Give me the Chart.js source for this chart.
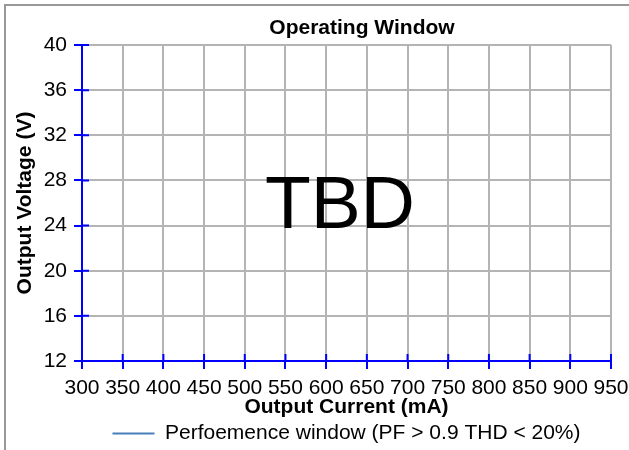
<!DOCTYPE html>
<html>
<head>
<meta charset="utf-8">
<script src="https://cdn.jsdelivr.net/npm/chart.js@4"></script>
<style>
  html, body { margin: 0; padding: 0; background: #fff; }
  #wrap { width: 629px; height: 450px; position: relative; }
</style>
</head>
<body>
<div id="wrap"><canvas id="chart" width="629" height="450"></canvas></div>
<script>
const FONT = "Arial, 'Liberation Sans', sans-serif";

// ── data ──
const chartTitle = "Operating Window";
const xTitle = "Output Current (mA)";
const yTitle = "Output Voltage (V)";
const xTicks = [300, 350, 400, 450, 500, 550, 600, 650, 700, 750, 800, 850, 900, 950];
const yTicks = [12, 16, 20, 24, 28, 32, 36, 40];
const seriesLabel = "Perfoemence window (PF > 0.9 THD < 20%)";
const seriesPoints = []; // no data yet, chart marked TBD
const placeholder = "TBD";

const AXIS_BLUE = "#0000ff";
const GRID_GRAY = "#b4b4b4";

// frame, title and the big TBD text
const decor = {
  id: "decor",
  beforeDraw(chart) {
    const { ctx, width, height } = chart;
    ctx.save();
    ctx.fillStyle = "#fff";
    ctx.fillRect(0, 0, width, height);
    ctx.strokeStyle = "#999";
    ctx.lineWidth = 2;
    ctx.strokeRect(5, 5, width + 20, height + 20);
    ctx.restore();
  },
  afterDraw(chart) {
    const { ctx, chartArea: a, scales } = chart;
    ctx.save();
    // inward half of the crossing tick marks
    ctx.strokeStyle = AXIS_BLUE;
    ctx.lineWidth = 2;
    ctx.beginPath();
    xTicks.forEach((v) => {
      const x = scales.x.getPixelForValue(v);
      ctx.moveTo(x, a.bottom);
      ctx.lineTo(x, a.bottom - 7);
    });
    yTicks.forEach((v) => {
      const y = scales.y.getPixelForValue(v);
      ctx.moveTo(a.left, y);
      ctx.lineTo(a.left + 7, y);
    });
    ctx.stroke();

    ctx.fillStyle = "#000";
    ctx.textAlign = "center";
    ctx.textBaseline = "middle";
    ctx.font = "bold 21px " + FONT;
    ctx.fillText(chartTitle, 362, 28);
    ctx.font = "75px " + FONT;
    ctx.textBaseline = "alphabetic";
    ctx.fillText(placeholder, 340, 228);
    ctx.restore();
  },
};

new Chart(document.getElementById("chart"), {
  type: "line",
  data: {
    datasets: [
      {
        label: seriesLabel,
        data: seriesPoints,
        borderColor: "#4a7ebb",
        backgroundColor: "#4a7ebb",
        borderWidth: 2,
        pointRadius: 0,
      },
    ],
  },
  options: {
    responsive: false,
    animation: false,
    layout: { padding: { top: 45, left: 0, right: 18, bottom: -4 } },
    plugins: {
      title: { display: false },
      tooltip: { enabled: false },
      legend: {
        position: "bottom",
        fullSize: false,
        labels: {
          usePointStyle: true,
          pointStyle: "line",
          pointStyleWidth: 42,
          color: "#000",
          padding: 6,
          font: { family: FONT, size: 21 },
        },
      },
    },
    scales: {
      x: {
        type: "linear",
        min: 300,
        max: 950,
        afterBuildTicks: (s) => { s.ticks = xTicks.map((v) => ({ value: v })); },
        afterFit: (s) => { s.height = 56; s.paddingLeft = 0; s.paddingRight = 0; },
        grid: { color: GRID_GRAY, lineWidth: 2, tickColor: AXIS_BLUE, tickLength: 8, tickWidth: 2 },
        border: { color: AXIS_BLUE, width: 2 },
        ticks: { color: "#000", padding: 7, maxRotation: 0, autoSkip: false, font: { family: FONT, size: 21 } },
        title: { display: true, text: xTitle, color: "#000", padding: { top: 0, bottom: -3 }, font: { family: FONT, size: 21, weight: "bold" } },
      },
      y: {
        type: "linear",
        min: 12,
        max: 40,
        afterBuildTicks: (s) => { s.ticks = yTicks.map((v) => ({ value: v })); },
        afterFit: (s) => { s.width = 82; s.paddingTop = 0; s.paddingBottom = 0; },
        grid: { color: GRID_GRAY, lineWidth: 2, tickColor: AXIS_BLUE, tickLength: 8, tickWidth: 2 },
        border: { color: AXIS_BLUE, width: 2 },
        ticks: { color: "#000", padding: 7, font: { family: FONT, size: 21 } },
        title: { display: true, text: yTitle, color: "#000", padding: { top: 13, bottom: 0 }, font: { family: FONT, size: 21, weight: "bold" } },
      },
    },
  },
  plugins: [decor],
});
</script>
</body>
</html>
